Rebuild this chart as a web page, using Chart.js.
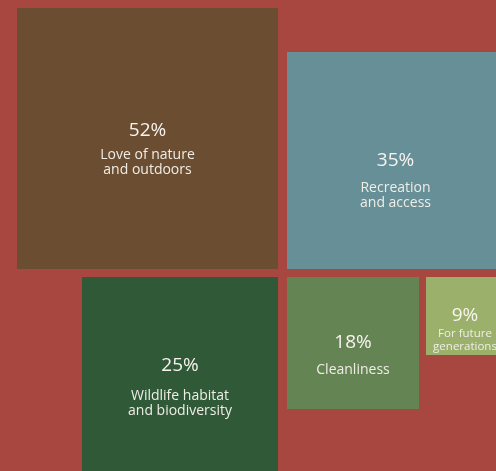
<!DOCTYPE html>
<html>
<head>
<meta charset="utf-8">
<script src="https://cdn.jsdelivr.net/npm/chart.js@4"></script>
<style>
  html, body { margin: 0; padding: 0; background: #A8473F; }
  #wrap { width: 496px; height: 471px; position: relative; }
</style>
</head>
<body>
<div id="wrap"><canvas id="myChart"></canvas></div>
<script>
// data
const valores = [52, 35, 25, 18, 9];
const titulos = [
    ['Love of nature', 'and outdoors'],
    ['Recreation', 'and access'],
    ['Wildlife habitat', 'and biodiversity'],
    ['Cleanliness'],
    ['For future', 'generations']
];

// layout (px in a 496x471 space)
const lados = [261, 217, 196, 132, 78];
const colores = ['#6B4D32', '#668F98', '#2F5937', '#658453', '#9BB16B'];
const corteX = 278, corteY = 269, gapX = 9, gapY = 8, gapMini = 7;
const ajusteTexto = [-8, 0, -9, 0, 0];
const gapTitulo = [23.5, 26, 29, 26, 15.5];

// each box hangs off the two cut lines: centre x plus a [top, bottom] span
function cajas() {
    const s = lados;
    const izq = corteX + gapX;
    const abajo = corteY + gapY;
    return [
        { x: corteX - s[0] / 2, y: [corteY - s[0], corteY] },
        { x: izq + s[1] / 2, y: [corteY - s[1], corteY] },
        { x: corteX - s[2] / 2, y: [abajo, abajo + s[2]] },
        { x: izq + s[3] / 2, y: [abajo, abajo + s[3]] },
        { x: izq + s[3] + gapMini + s[4] / 2, y: [abajo, abajo + s[4]] }
    ];
}

const textos = {
    id: 'textos',
    afterDatasetsDraw(chart) {
        const ctx = chart.ctx;
        ctx.save();
        ctx.textAlign = 'center';
        ctx.textBaseline = 'alphabetic';
        valores.forEach((v, i) => {
            const bar = chart.getDatasetMeta(i).data[0];
            const cx = bar.x;
            const cy = (bar.y + bar.base) / 2;
            const chico = lados[i] < 100;
            const base = cy + 5 + ajusteTexto[i];
            ctx.fillStyle = '#F7F4EF';
            ctx.font = '19px "Open Sans"';
            ctx.fillText(v + '%', cx, base);
            ctx.fillStyle = '#EFEDE6';
            ctx.font = (chico ? '11.5px' : '14px') + ' "Open Sans"';
            const lh = chico ? 13.5 : 15;
            titulos[i].forEach((t, j) => {
                ctx.fillText(t, cx, base + gapTitulo[i] + j * lh);
            });
        });
        ctx.restore();
    }
};

const pos = cajas();
const ctx = document.getElementById('myChart').getContext('2d');
const myChart = new Chart(ctx, {
    type: 'bar',
    data: {
        datasets: valores.map((v, i) => ({
            label: titulos[i].join(' '),
            data: [pos[i]],
            backgroundColor: colores[i],
            barThickness: lados[i],
            stack: 'todo',
            borderWidth: 0,
            inflateAmount: 0,
            clip: false
        }))
    },
    options: {
        responsive: true,
        maintainAspectRatio: false,
        animation: false,
        events: [],
        layout: { padding: 0 },
        plugins: { legend: { display: false }, tooltip: { enabled: false } },
        scales: {
            x: { type: 'linear', min: 0, max: 496, offset: false, display: false },
            y: { type: 'linear', min: 0, max: 471, reverse: true, stacked: false, display: false }
        }
    },
    plugins: [textos]
});
</script>
</body>
</html>
